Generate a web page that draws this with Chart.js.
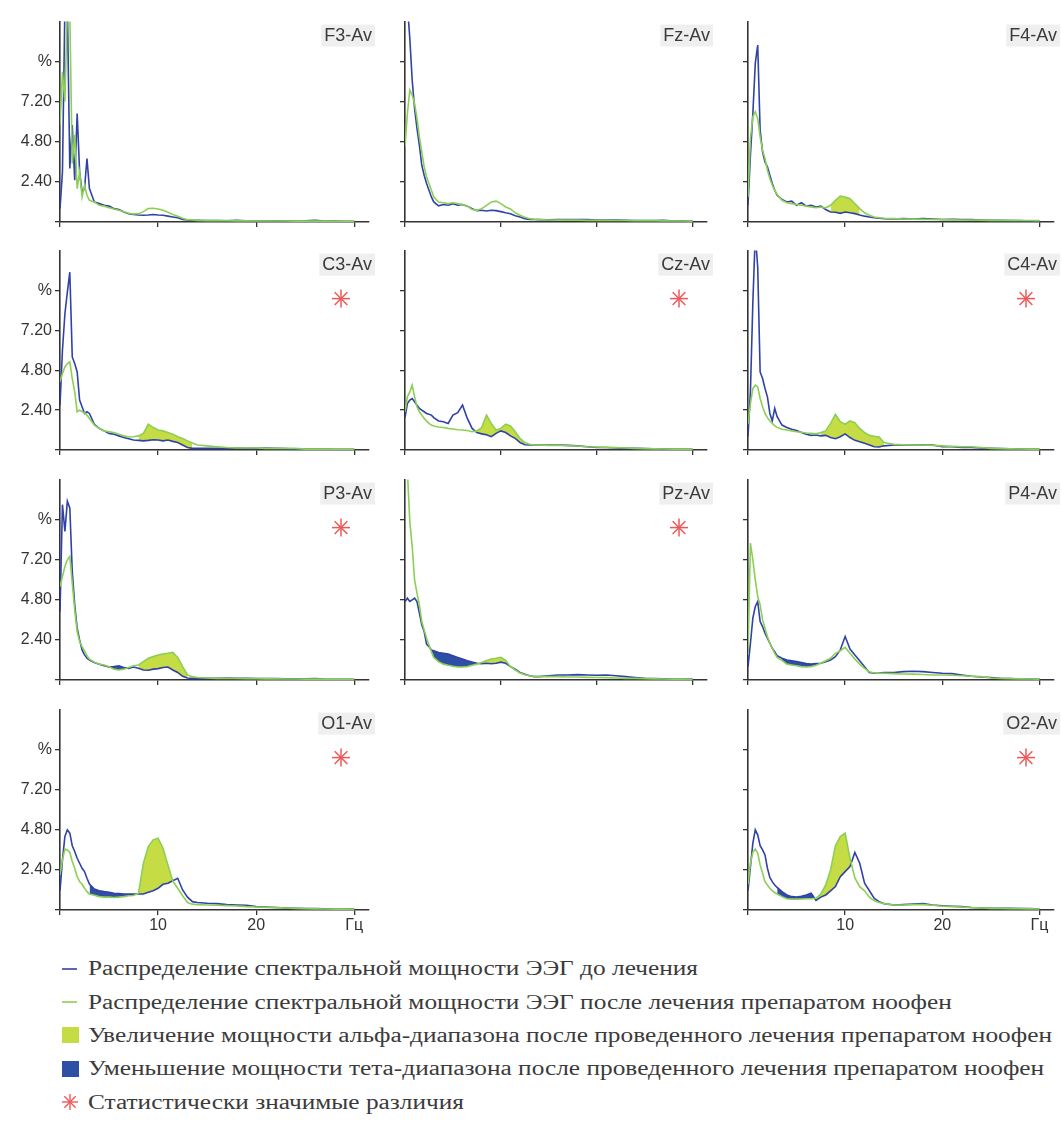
<!DOCTYPE html>
<html>
<head>
<meta charset="utf-8">
<script src="https://cdn.jsdelivr.net/npm/chart.js@4.4.1/dist/chart.umd.min.js"></script>
<style>
    body { margin: 0; background: #fff; width: 1062px; height: 1138px; position: relative; overflow: hidden; }
    canvas.panel { position: absolute; }
    #legend { position: absolute; left: 60px; top: 952px; font-family: "Liberation Serif", "Times New Roman", serif; font-size: 20px; color: #3b3b3b; }
    #legend .row { height: 33.4px; display: flex; align-items: center; white-space: nowrap; }
    #legend .mark { width: 20px; height: 20px; margin-right: 8px; flex: none; }
    #legend .txt { display: inline-block; transform-origin: left center; }
</style>
</head>
<body>
<div id="legend">
    <div class="row"><svg class="mark" viewBox="0 0 20 20"><line x1="2" y1="10" x2="17" y2="10" stroke="#3042a8" stroke-width="1.6"/></svg><span class="txt">Распределение спектральной мощности ЭЭГ до лечения</span></div>
    <div class="row"><svg class="mark" viewBox="0 0 20 20"><line x1="2" y1="10" x2="17" y2="10" stroke="#8ccf55" stroke-width="1.6"/></svg><span class="txt">Распределение спектральной мощности ЭЭГ после лечения препаратом ноофен</span></div>
    <div class="row"><svg class="mark" viewBox="0 0 20 20"><rect x="2" y="2" width="17" height="16" fill="#c6dc44"/></svg><span class="txt">Увеличение мощности альфа-диапазона после проведенного лечения препаратом ноофен</span></div>
    <div class="row"><svg class="mark" viewBox="0 0 20 20"><rect x="2" y="2" width="17" height="16" fill="#2f4fa6"/></svg><span class="txt">Уменьшение мощности тета-диапазона после проведенного лечения препаратом ноофен</span></div>
    <div class="row"><svg class="mark" viewBox="0 0 20 20" id="legendStar"></svg><span class="txt">Статистически значимые различия</span></div>
</div>
<script>
// frequency grid, Hz (denser at the low end)
const FREQ = [0, 0.25, 0.5, 0.75, 1, 1.25, 1.5, 1.75, 2, 2.25, 2.5, 2.75, 3,
    3.5, 4, 4.5, 5, 5.5, 6, 6.5, 7, 7.5, 8, 8.5, 9, 9.5, 10, 10.5, 11, 11.5, 12, 12.5, 13, 13.5, 14,
    15, 16, 17, 18, 19, 20, 21, 22, 23, 24, 25, 26, 27, 28, 29, 30];

// spectral power, %  (before = blue, after = green)
const BEFORE_F3 = [0.8, 3.0, 13, 13, 3.2, 5.8, 2.5, 6.5, 3.0, 1.8, 2.0, 3.8, 2.0,
    1.2, 1.1, 1.0, 0.95, 0.8, 0.75, 0.6, 0.5, 0.45, 0.42, 0.4, 0.42, 0.45, 0.42, 0.4, 0.35, 0.3, 0.25, 0.15, 0.12, 0.1, 0.1,
    0.08, 0.08, 0.07, 0.1, 0.07, 0.06, 0.06, 0.07, 0.06, 0.06, 0.07, 0.1, 0.05, 0.05, 0.04, 0.04];
const AFTER_F3 = [5.8, 9.0, 7.2, 13, 12.5, 3.5, 5.2, 2.0, 3.0, 1.5, 2.2, 1.6, 1.3,
    1.2, 1.0, 0.95, 0.85, 0.78, 0.7, 0.62, 0.52, 0.48, 0.5, 0.62, 0.8, 0.82, 0.78, 0.7, 0.58, 0.45, 0.35, 0.22, 0.14, 0.12, 0.1,
    0.08, 0.08, 0.08, 0.07, 0.07, 0.06, 0.06, 0.06, 0.06, 0.05, 0.05, 0.05, 0.05, 0.04, 0.04, 0.04];

const BEFORE_FZ = [12.5, 13, 11, 8.5, 6.8, 5.6, 4.6, 3.4, 2.8, 2.3, 1.9, 1.5, 1.2,
    0.97, 1.05, 1.0, 1.1, 1.0, 1.05, 0.95, 0.8, 0.68, 0.7, 0.66, 0.7, 0.68, 0.62, 0.55, 0.5, 0.38, 0.3, 0.2, 0.15, 0.15, 0.14,
    0.13, 0.15, 0.15, 0.14, 0.15, 0.12, 0.12, 0.12, 0.1, 0.08, 0.08, 0.08, 0.1, 0.06, 0.07, 0.05];
const AFTER_FZ = [4.5, 6.5, 7.9, 7.6, 7.1, 6.2, 5.1, 4.2, 3.3, 2.7, 2.3, 1.9, 1.5,
    1.2, 1.15, 1.1, 1.15, 1.1, 1.05, 0.95, 0.75, 0.7, 0.8, 1.0, 1.2, 1.25, 1.1, 0.9, 0.78, 0.55, 0.4, 0.28, 0.2, 0.16, 0.14,
    0.12, 0.12, 0.11, 0.11, 0.1, 0.1, 0.1, 0.09, 0.09, 0.08, 0.08, 0.08, 0.07, 0.06, 0.06, 0.05];

const BEFORE_F4 = [1.0, 4.0, 6.5, 9.5, 10.6, 5.5, 4.2, 3.6, 3.3, 2.8, 2.3, 1.9, 1.6,
    1.35, 1.2, 1.25, 1.0, 1.15, 0.95, 1.0, 0.9, 0.95, 0.75, 0.6, 0.58, 0.52, 0.6, 0.55, 0.5, 0.42, 0.35, 0.3, 0.25, 0.22, 0.2,
    0.18, 0.2, 0.18, 0.2, 0.18, 0.15, 0.16, 0.15, 0.14, 0.12, 0.1, 0.1, 0.08, 0.08, 0.06, 0.05];
const AFTER_F4 = [1.5, 5.0, 6.3, 6.6, 6.2, 5.1, 4.3, 3.8, 3.1, 2.6, 2.2, 1.9, 1.65,
    1.3, 1.15, 1.1, 1.05, 1.0, 0.95, 0.9, 0.85, 0.9, 0.85, 1.0, 1.3, 1.55, 1.5, 1.4, 1.1, 0.8, 0.55, 0.4, 0.3, 0.25, 0.22,
    0.2, 0.18, 0.17, 0.16, 0.15, 0.14, 0.13, 0.12, 0.12, 0.11, 0.1, 0.1, 0.1, 0.09, 0.09, 0.08];

const BEFORE_C3 = [2.7, 6.0, 8.2, 9.5, 10.7, 5.6, 5.2, 4.7, 3.0, 2.6, 2.2, 2.3, 2.2,
    1.55, 1.3, 1.15, 1.0, 0.95, 0.85, 0.75, 0.68, 0.6, 0.58, 0.55, 0.58, 0.62, 0.6, 0.55, 0.6, 0.52, 0.45, 0.3, 0.15, 0.1, 0.1,
    0.1, 0.1, 0.1, 0.12, 0.1, 0.1, 0.12, 0.1, 0.08, 0.06, 0.05, 0.05, 0.05, 0.04, 0.04, 0.04];
const AFTER_C3 = [4.1, 4.6, 5.0, 5.2, 5.3, 4.3, 3.5, 2.3, 2.4, 2.3, 2.25, 2.1, 1.9,
    1.5, 1.3, 1.15, 1.1, 1.05, 0.95, 0.85, 0.78, 0.8, 0.85, 1.0, 1.55, 1.35, 1.2, 1.15, 1.05, 0.95, 0.8, 0.7, 0.55, 0.42, 0.3,
    0.25, 0.2, 0.15, 0.12, 0.12, 0.12, 0.1, 0.1, 0.1, 0.1, 0.05, 0.05, 0.05, 0.04, 0.04, 0.04];

const BEFORE_CZ = [1.95, 2.8, 3.0, 3.1, 2.9, 2.7, 2.5, 2.4, 2.3, 2.2, 2.15, 2.1, 1.95,
    1.75, 1.7, 1.6, 2.1, 2.25, 2.7, 1.9, 1.3, 1.05, 0.97, 0.92, 0.8, 1.0, 1.15, 1.05, 0.85, 0.7, 0.45, 0.32, 0.3, 0.3, 0.3,
    0.3, 0.3, 0.28, 0.25, 0.2, 0.15, 0.15, 0.12, 0.1, 0.1, 0.08, 0.07, 0.06, 0.05, 0.05, 0.04];
const AFTER_CZ = [2.3, 3.2, 3.5, 3.9, 3.2, 2.6, 2.3, 2.1, 1.9, 1.75, 1.6, 1.5, 1.45,
    1.38, 1.35, 1.3, 1.26, 1.22, 1.2, 1.17, 1.1, 1.15, 1.35, 2.1, 1.6, 1.2, 1.3, 1.55, 1.45, 1.1, 0.7, 0.45, 0.35, 0.3, 0.3,
    0.28, 0.28, 0.26, 0.24, 0.2, 0.18, 0.16, 0.14, 0.12, 0.1, 0.08, 0.07, 0.06, 0.05, 0.05, 0.04];

const BEFORE_C4 = [0.8, 3.5, 8.9, 13, 11, 4.7, 4.3, 3.7, 3.2, 2.2, 1.75, 2.5, 2.0,
    1.5, 1.36, 1.25, 1.17, 1.05, 0.95, 0.88, 0.9, 0.85, 0.88, 0.75, 0.68, 0.8, 0.97, 0.75, 0.58, 0.5, 0.4, 0.3, 0.2, 0.18, 0.25,
    0.3, 0.3, 0.3, 0.32, 0.3, 0.2, 0.2, 0.15, 0.15, 0.12, 0.1, 0.08, 0.07, 0.06, 0.05, 0.05];
const AFTER_C4 = [1.55, 2.8, 3.7, 3.9, 3.8, 3.1, 2.6, 2.2, 1.95, 1.75, 1.6, 1.45, 1.36,
    1.25, 1.2, 1.15, 1.1, 1.07, 1.02, 1.0, 0.97, 1.05, 1.15, 1.6, 2.15, 1.7, 1.55, 1.75, 1.65, 1.3, 1.05, 0.88, 0.82, 0.78, 0.45,
    0.35, 0.32, 0.3, 0.3, 0.28, 0.25, 0.22, 0.2, 0.2, 0.15, 0.1, 0.08, 0.07, 0.06, 0.05, 0.05];

const BEFORE_P3 = [4.1, 10.5, 8.9, 10.7, 10.3, 6.5, 4.5, 3.1, 2.4, 1.8, 1.5, 1.3, 1.2,
    1.05, 0.95, 0.85, 0.78, 0.8, 0.85, 0.75, 0.7, 0.78, 0.7, 0.6, 0.58, 0.65, 0.68, 0.75, 0.78, 0.6, 0.45, 0.22, 0.12, 0.1, 0.1,
    0.1, 0.1, 0.12, 0.1, 0.1, 0.08, 0.08, 0.08, 0.07, 0.07, 0.07, 0.08, 0.05, 0.04, 0.04, 0.04];
const AFTER_P3 = [5.6, 6.2, 6.8, 7.2, 7.4, 5.8, 4.2, 2.9, 2.3, 2.0, 1.75, 1.45, 1.25,
    1.07, 0.95, 0.9, 0.8, 0.65, 0.6, 0.65, 0.75, 0.85, 0.9, 1.1, 1.3, 1.4, 1.5, 1.55, 1.6, 1.65, 1.35, 0.8, 0.3, 0.2, 0.15,
    0.12, 0.1, 0.1, 0.09, 0.08, 0.08, 0.07, 0.07, 0.06, 0.06, 0.05, 0.05, 0.05, 0.04, 0.04, 0.04];

const BEFORE_PZ = [4.7, 4.9, 4.7, 4.8, 4.9, 4.7, 4.0, 3.3, 2.9, 2.15, 2.0, 1.8, 1.75,
    1.65, 1.6, 1.55, 1.45, 1.35, 1.25, 1.15, 1.07, 1.0, 0.97, 1.0, 0.97, 1.0, 1.07, 1.0, 0.8, 0.65, 0.45, 0.35, 0.25, 0.2, 0.2,
    0.25, 0.3, 0.3, 0.32, 0.3, 0.28, 0.3, 0.25, 0.2, 0.15, 0.1, 0.08, 0.07, 0.06, 0.05, 0.05];
const AFTER_PZ = [13, 12.5, 9.5, 8.0, 6.0, 5.2, 4.5, 3.5, 3.0, 2.5, 2.1, 1.7, 1.35,
    1.1, 0.95, 0.88, 0.82, 0.78, 0.78, 0.8, 0.88, 0.95, 1.05, 1.17, 1.26, 1.3, 1.36, 1.17, 0.8, 0.6, 0.42, 0.32, 0.25, 0.2, 0.2,
    0.2, 0.2, 0.18, 0.18, 0.16, 0.15, 0.14, 0.12, 0.1, 0.1, 0.08, 0.07, 0.06, 0.05, 0.05, 0.04];

const BEFORE_P4 = [0.78, 2.2, 3.7, 4.4, 4.7, 3.5, 3.2, 2.8, 2.5, 2.2, 1.9, 1.7, 1.45,
    1.3, 1.2, 1.15, 1.1, 1.05, 0.98, 0.95, 0.98, 1.0, 1.1, 1.2, 1.4, 1.8, 2.6, 1.85, 1.5, 1.15, 0.8, 0.45, 0.4, 0.42, 0.45,
    0.45, 0.5, 0.52, 0.5, 0.45, 0.4, 0.38, 0.3, 0.22, 0.18, 0.15, 0.1, 0.08, 0.06, 0.05, 0.05];
const AFTER_P4 = [1.5, 8.2, 7.2, 6.0, 5.0, 4.5, 3.6, 3.1, 2.6, 2.2, 1.9, 1.6, 1.35,
    1.17, 0.95, 0.9, 0.85, 0.8, 0.78, 0.8, 0.88, 1.0, 1.15, 1.3, 1.6, 1.75, 1.95, 1.6, 1.25, 0.95, 0.7, 0.5, 0.42, 0.4, 0.4,
    0.38, 0.36, 0.35, 0.33, 0.3, 0.3, 0.28, 0.25, 0.22, 0.2, 0.12, 0.1, 0.08, 0.07, 0.06, 0.05];

const BEFORE_O1 = [1.15, 3.0, 4.4, 4.8, 4.6, 3.85, 3.5, 3.1, 2.8, 2.5, 2.3, 1.9, 1.55,
    1.25, 1.15, 1.1, 1.06, 1.0, 0.98, 0.96, 0.95, 0.96, 0.96, 0.96, 1.06, 1.15, 1.3, 1.54, 1.6, 1.75, 1.9, 1.2, 0.77, 0.5, 0.45,
    0.4, 0.38, 0.32, 0.3, 0.28, 0.2, 0.18, 0.15, 0.12, 0.1, 0.08, 0.08, 0.07, 0.06, 0.06, 0.05];
const AFTER_O1 = [2.1, 3.0, 3.65, 3.6, 3.45, 2.9, 2.5, 2.0, 1.7, 1.54, 1.3, 1.1, 0.96,
    0.88, 0.8, 0.77, 0.77, 0.75, 0.77, 0.8, 0.85, 0.87, 1.0, 2.8, 3.8, 4.2, 4.3, 3.7, 2.7, 1.73, 1.3, 0.85, 0.45, 0.35, 0.32,
    0.3, 0.28, 0.26, 0.24, 0.2, 0.18, 0.16, 0.14, 0.12, 0.1, 0.08, 0.07, 0.06, 0.05, 0.05, 0.04];

const BEFORE_O2 = [1.15, 2.6, 4.0, 4.8, 4.5, 3.85, 3.6, 3.3, 2.5, 1.95, 1.7, 1.5, 1.35,
    1.1, 0.9, 0.8, 0.77, 0.82, 0.9, 1.0, 0.58, 0.77, 0.9, 1.15, 1.4, 2.0, 2.3, 2.6, 3.45, 2.8, 1.6, 1.15, 0.7, 0.5, 0.38,
    0.3, 0.32, 0.35, 0.38, 0.3, 0.25, 0.22, 0.2, 0.15, 0.12, 0.1, 0.1, 0.1, 0.08, 0.08, 0.06];
const AFTER_O2 = [1.54, 2.8, 3.45, 3.65, 3.4, 2.7, 2.2, 1.7, 1.5, 1.3, 1.15, 1.05, 0.96,
    0.8, 0.67, 0.65, 0.65, 0.66, 0.67, 0.67, 0.7, 0.96, 1.5, 2.4, 3.85, 4.4, 4.6, 3.1, 1.92, 1.4, 1.15, 0.77, 0.55, 0.45, 0.38,
    0.3, 0.3, 0.32, 0.32, 0.28, 0.22, 0.2, 0.18, 0.14, 0.12, 0.1, 0.1, 0.08, 0.08, 0.07, 0.06];

// 3 x 4 grid, the middle cell of the last row is empty
const PANEL_NAMES = ['F3-Av', 'Fz-Av', 'F4-Av', 'C3-Av', 'Cz-Av', 'C4-Av', 'P3-Av', 'Pz-Av', 'P4-Av', 'O1-Av', null, 'O2-Av'];
const BEFORE = [BEFORE_F3, BEFORE_FZ, BEFORE_F4, BEFORE_C3, BEFORE_CZ, BEFORE_C4, BEFORE_P3, BEFORE_PZ, BEFORE_P4, BEFORE_O1, null, BEFORE_O2];
const AFTER = [AFTER_F3, AFTER_FZ, AFTER_F4, AFTER_C3, AFTER_CZ, AFTER_C4, AFTER_P3, AFTER_PZ, AFTER_P4, AFTER_O1, null, AFTER_O2];
const ALPHA_BAND = [null, null, [8.5, 11.5], [8, 13.5], [7.5, 12.5], [7.5, 14], [8, 13], [8, 11], null, [8, 12], null, [7, 11]];
const THETA_BAND = [null, null, null, null, null, null, [5, 7], [2.75, 8], [3.5, 7.5], [3, 8], null, [3, 7]];
const SIGNIFICANT = [false, false, false, true, true, true, true, true, false, true, false, true];

const Y_TICKS = [0, 2.4, 4.8, 7.2, 9.6];
const Y_TICK_LABELS = ['', '2.40', '4.80', '7.20', '%'];
const X_TICKS = [0, 10, 20, 30];
const X_TICK_LABELS = ['', '10', '20', 'Гц'];

const BLUE = '#3042a8';
const GREEN = '#8ccf55';
const ALPHA_FILL = '#c6dc44';
const THETA_FILL = '#2f4fa6';
const STAR_RED = '#ee5858';
const AXIS = '#333';

// layout in page pixels
const COL_AXIS_X = [60, 405, 748];
const COL_AXIS_END = [369, 707, 1054];
const ROW_TOP = [15, 244, 473, 703];
const ROW_BASE = [222, 450, 680, 910];
const Y_AXIS_W = 60, X_AXIS_H = 28, PAD_TOP = 6, PAD_RIGHT = 12;

function drawStar(ctx, cx, cy, r) {
    ctx.save();
    ctx.strokeStyle = STAR_RED;
    ctx.lineWidth = 1.5;
    for (let k = 0; k < 4; k++) {
        const a = k * Math.PI / 4;
        ctx.beginPath();
        ctx.moveTo(cx - r * Math.cos(a), cy - r * Math.sin(a));
        ctx.lineTo(cx + r * Math.cos(a), cy + r * Math.sin(a));
        ctx.stroke();
    }
    ctx.restore();
}

const panelDecor = {
    id: 'panelDecor',
    afterDraw(chart, args, opts) {
        const { ctx, chartArea } = chart;
        ctx.save();
        ctx.font = '18px "Liberation Sans", Arial, sans-serif';
        const w = ctx.measureText(opts.title).width;
        const xr = chartArea.right + 3, yc = chartArea.top + 14;
        ctx.fillStyle = '#efefef';
        ctx.fillRect(xr - w - 3, yc - 11, w + 6, 22);
        ctx.fillStyle = '#3a3a3a';
        ctx.textAlign = 'right';
        ctx.textBaseline = 'middle';
        ctx.fillText(opts.title, xr, yc);
        ctx.restore();
        if (opts.star) drawStar(ctx, chartArea.right - 28, chartArea.top + 48, 9);
    }
};

const pts = (vals, range) => FREQ
    .map((f, k) => ({ x: f, y: vals[k] }))
    .filter(p => !range || (p.x >= range[0] && p.x <= range[1]));

const lineDs = (vals, color, order) => ({
    data: pts(vals), borderColor: color, borderWidth: 1.6,
    pointRadius: 0, tension: 0, fill: false, order,
});

function buildDatasets(i) {
    const ds = [lineDs(AFTER[i], GREEN, 0), lineDs(BEFORE[i], BLUE, 1)];
    const addBand = (lower, upper, range, color) => {
        const lowIdx = ds.length;
        ds.push({ data: pts(lower, range), borderWidth: 0, pointRadius: 0, fill: false, order: 6 });
        ds.push({
            data: pts(upper, range), borderWidth: 0, pointRadius: 0, order: 5,
            fill: { target: lowIdx, above: color, below: 'rgba(0,0,0,0)' },
        });
    };
    if (ALPHA_BAND[i]) addBand(BEFORE[i], AFTER[i], ALPHA_BAND[i], ALPHA_FILL);
    if (THETA_BAND[i]) addBand(AFTER[i], BEFORE[i], THETA_BAND[i], THETA_FILL);
    return ds;
}

const tickFont = { family: '"Liberation Sans", Arial, sans-serif', size: 16 };

PANEL_NAMES.forEach((name, i) => {
    if (!name) return;
    const col = i % 3, row = Math.floor(i / 3);
    const left = COL_AXIS_X[col] - Y_AXIS_W;
    const top = ROW_TOP[row] - PAD_TOP;
    const width = COL_AXIS_END[col] - left + PAD_RIGHT;
    const height = ROW_BASE[row] - top + X_AXIS_H;

    const cv = document.createElement('canvas');
    cv.className = 'panel';
    cv.width = width;
    cv.height = height;
    cv.style.left = left + 'px';
    cv.style.top = top + 'px';
    document.body.appendChild(cv);

    new Chart(cv, {
        type: 'line',
        data: { datasets: buildDatasets(i) },
        plugins: [panelDecor],
        options: {
            responsive: false,
            animation: false,
            events: [],
            layout: { padding: { top: PAD_TOP, right: PAD_RIGHT, left: 0, bottom: 0 } },
            plugins: {
                legend: { display: false },
                tooltip: { enabled: false },
                panelDecor: { title: name, star: SIGNIFICANT[i] },
            },
            scales: {
                x: {
                    type: 'linear', min: 0, max: 31.5,
                    afterBuildTicks: s => { s.ticks = X_TICKS.map(v => ({ value: v })); },
                    afterFit: s => { s.height = X_AXIS_H; },
                    ticks: {
                        autoSkip: false, maxRotation: 0, padding: 1,
                        color: AXIS, font: tickFont,
                        callback: v => row === 3 ? X_TICK_LABELS[X_TICKS.indexOf(v)] : '',
                    },
                    grid: { drawOnChartArea: false, drawTicks: true, tickLength: 5, color: AXIS, lineWidth: 1.3 },
                    border: { display: true, color: AXIS, width: 1.6 },
                },
                y: {
                    min: 0, max: 12,
                    afterBuildTicks: s => { s.ticks = Y_TICKS.map(v => ({ value: v })); },
                    afterFit: s => { s.width = Y_AXIS_W; },
                    ticks: {
                        autoSkip: false, padding: 3,
                        color: AXIS, font: tickFont,
                        callback: v => col === 0 ? Y_TICK_LABELS[Y_TICKS.indexOf(v)] : '',
                    },
                    grid: { drawOnChartArea: false, drawTicks: true, tickLength: 5, color: AXIS, lineWidth: 1.3 },
                    border: { display: true, color: AXIS, width: 1.6 },
                },
            },
        },
    });
});

// legend: red asterisk marker and a horizontal stretch to the reference text width
(function () {
    const svg = document.getElementById('legendStar');
    for (let k = 0; k < 4; k++) {
        const a = k * Math.PI / 4;
        const l = document.createElementNS('http://www.w3.org/2000/svg', 'line');
        l.setAttribute('x1', 10 - 8 * Math.cos(a)); l.setAttribute('y1', 10 - 8 * Math.sin(a));
        l.setAttribute('x2', 10 + 8 * Math.cos(a)); l.setAttribute('y2', 10 + 8 * Math.sin(a));
        l.setAttribute('stroke', STAR_RED); l.setAttribute('stroke-width', '1.4');
        svg.appendChild(l);
    }
    const spans = document.querySelectorAll('#legend .txt');
    const k = 964 / spans[2].getBoundingClientRect().width;
    spans.forEach(s => { s.style.transform = `scaleX(${k})`; });
})();
</script>
</body>
</html>
